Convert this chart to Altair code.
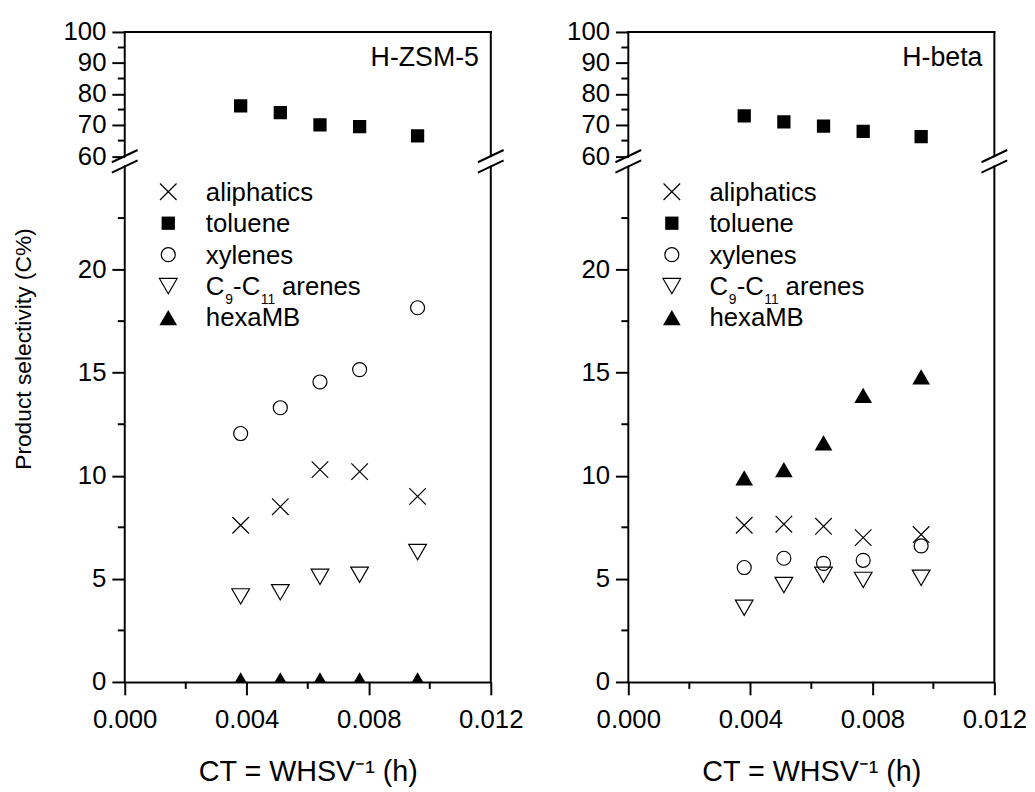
import altair as alt
import pandas as pd

# ---------------- data ----------------
CT = [0.0038, 0.0051, 0.0064, 0.0077, 0.0096]
SERIES = ["aliphatics", "toluene", "xylenes", "C9-C11 arenes", "hexaMB"]

ZSM5_ALIPHATICS = [7.6, 8.5, 10.3, 10.2, 9.0]
ZSM5_TOLUENE = [76.2, 74.0, 70.1, 69.5, 66.5]
ZSM5_XYLENES = [12.05, 13.3, 14.55, 15.15, 18.15]
ZSM5_C9C11 = [4.15, 4.35, 5.1, 5.2, 6.3]
ZSM5_HEXAMB = [0.1, 0.1, 0.1, 0.1, 0.1]

BETA_ALIPHATICS = [7.6, 7.65, 7.55, 7.0, 7.15]
BETA_TOLUENE = [73.0, 71.0, 69.7, 68.0, 66.3]
BETA_XYLENES = [5.55, 6.0, 5.75, 5.9, 6.6]
BETA_C9C11 = [3.6, 4.7, 5.2, 4.95, 5.05]
BETA_HEXAMB = [9.9, 10.3, 11.6, 13.9, 14.8]

X_TICKS = [0.0, 0.004, 0.008, 0.012]
X_MINOR = [0.002, 0.006, 0.010]
Y_TICKS = [0, 5, 10, 15, 20, 60, 70, 80, 90, 100]
Y_MINOR = [2.5, 7.5, 12.5, 17.5, 22.5, 65, 75, 85, 95]
Y_BREAK = [0, 25, 60, 100]   # lower segment 0-25, upper segment 60-100

# ---------------- layout ----------------
W, H = 370, 657
LOWER_PX = 20.84   # px per unit, lower segment
UPPER_PX = 3.1375  # px per unit, upper segment
Y_RANGE = [H, H - 25 * LOWER_PX, 40 * UPPER_PX, 0]
FONT = "Liberation Sans"

STYLE = {
    "aliphatics": dict(shape="M-1,-1L1,1M-1,1L1,-1", filled=False, size=280, strokeWidth=1.2),
    "toluene": dict(shape="square", filled=True, size=180),
    "xylenes": dict(shape="circle", filled=False, size=200, strokeWidth=1.2),
    "C9-C11 arenes": dict(shape="triangle-down", filled=False, size=320, strokeWidth=1.2),
    "hexaMB": dict(shape="triangle-up", filled=True, size=320),
}

one = pd.DataFrame({"a": [0]})


def panel(vals, label, ytitle):
    xs = alt.Scale(domain=[X_TICKS[0], X_TICKS[-1]], nice=False, zero=False)
    ys = alt.Scale(domain=Y_BREAK, range=Y_RANGE, nice=False, zero=False)
    xaxis = alt.Axis(values=X_TICKS, format=".3f", title="CT = WHSV⁻¹ (h)")
    yaxis = alt.Axis(values=Y_TICKS, format="d", title=ytitle, titleY=320)

    def X(f):
        return alt.X(f, type="quantitative", scale=xs, axis=xaxis)

    def Y(f):
        return alt.Y(f, type="quantitative", scale=ys, axis=yaxis)

    layers = []
    # frame lines (left/right broken, top)
    frame = pd.DataFrame({
        "x": [0, 0, 0.012, 0.012, 0],
        "x2": [0, 0, 0.012, 0.012, 0.012],
        "y": [0, 60, 0, 60, 100],
        "y2": [25, 100, 25, 100, 100],
    })
    layers.append(alt.Chart(frame).mark_rule(strokeWidth=2, color="black", strokeCap="square").encode(
        x=X("x"), x2="x2", y=Y("y"), y2="y2"))
    # minor ticks
    layers.append(alt.Chart(pd.DataFrame({"v": Y_MINOR})).mark_rule(strokeWidth=2, color="black").encode(
        y=Y("v"), x=alt.value(-7), x2=alt.value(0)))
    layers.append(alt.Chart(pd.DataFrame({"v": X_MINOR})).mark_rule(strokeWidth=2, color="black").encode(
        x=X("v"), y=alt.value(H), y2=alt.value(H + 7)))
    # break slashes
    for cx in (0, W):
        for cy in (Y_RANGE[1], Y_RANGE[2]):
            layers.append(alt.Chart(one).mark_rule(strokeWidth=2, color="black").encode(
                x=alt.value(cx - 13), x2=alt.value(cx + 13),
                y=alt.value(cy + 6.2), y2=alt.value(cy - 6.2)))
    # data
    for s in SERIES:
        df = pd.DataFrame({"CT": CT, "sel": vals[s]})
        st = STYLE[s]
        layers.append(alt.Chart(df).mark_point(color="black", opacity=1, clip=True, **st).encode(
            x=X("CT"), y=Y("sel")))
    # legend
    LX, TX, LY0, LDY = 44, 82, 161.5, 31.8
    for i, s in enumerate(SERIES):
        yy = LY0 + i * LDY
        st = STYLE[s]
        layers.append(alt.Chart(one).mark_point(color="black", opacity=1, **st).encode(
            x=alt.value(LX), y=alt.value(yy)))
        if s == "C9-C11 arenes":
            pieces = [("C", 0, 9, 26), ("9", 19.5, 18.5, 14), ("-C", 27.5, 9, 26),
                      ("11", 55.5, 18.5, 14), ("arenes", 77, 9, 26)]
        else:
            pieces = [(s, 0, 9, 26)]
        for txt, dx, dy, fs in pieces:
            layers.append(alt.Chart(one).mark_text(
                text=txt, align="left", baseline="alphabetic", font=FONT, fontSize=fs, color="black"
            ).encode(x=alt.value(TX + dx), y=alt.value(yy + dy)))
    # panel label
    layers.append(alt.Chart(one).mark_text(
        text=label, align="right", baseline="middle", font=FONT, fontSize=27, color="black"
    ).encode(x=alt.value(W - 12), y=alt.value(26.5)))

    return alt.layer(*layers).properties(width=W, height=H)


zsm5 = {"aliphatics": ZSM5_ALIPHATICS, "toluene": ZSM5_TOLUENE, "xylenes": ZSM5_XYLENES,
        "C9-C11 arenes": ZSM5_C9C11, "hexaMB": ZSM5_HEXAMB}
beta = {"aliphatics": BETA_ALIPHATICS, "toluene": BETA_TOLUENE, "xylenes": BETA_XYLENES,
        "C9-C11 arenes": BETA_C9C11, "hexaMB": BETA_HEXAMB}

left = panel(zsm5, "H-ZSM-5", "Product selectivity (C%)")
right = panel(beta, "H-beta", None)

chart = alt.hconcat(left, right, spacing=43).properties(
    padding={"left": 5, "top": 7, "right": 0, "bottom": 0}
).configure_view(stroke=None).configure_axis(
    domainColor="black", domainWidth=2, tickColor="black", tickWidth=2, tickSize=13,
    labelColor="black", labelFont=FONT, labelFontSize=26, labelOverlap=False, labelFlush=False,
    titleFont=FONT, titleFontWeight="normal", titleColor="black", grid=False,
).configure_axisX(labelPadding=12, titlePadding=26, titleFontSize=29
).configure_axisY(labelPadding=6, titlePadding=27.5, titleFontSize=23, domain=False)

chart.save("out.html", embed_options={"renderer": "svg", "actions": False})
